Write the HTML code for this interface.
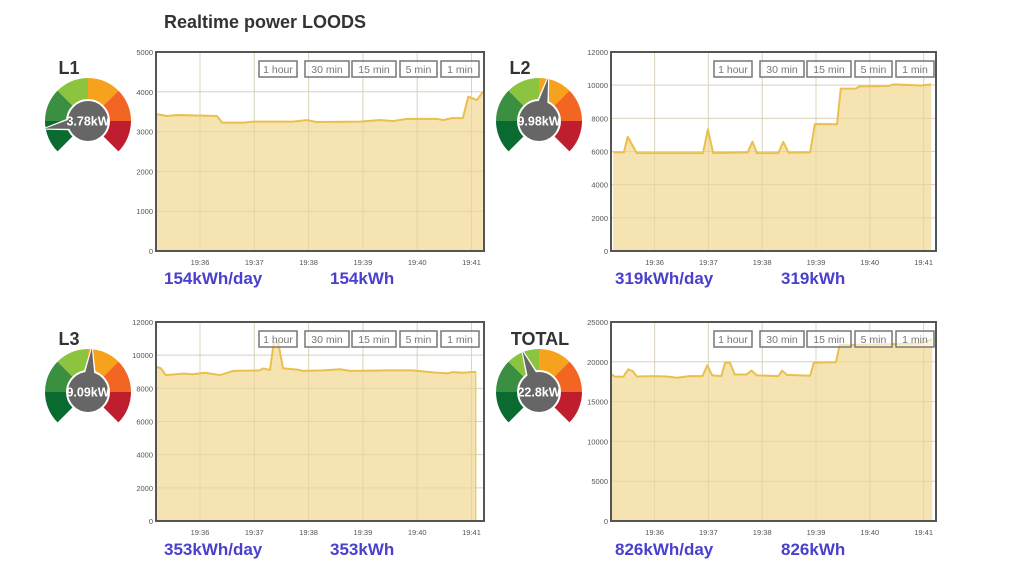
<!DOCTYPE html>
<html><head><meta charset="utf-8"><style>
html,body{margin:0;padding:0;background:#fff;width:1024px;height:585px;overflow:hidden;font-family:"Liberation Sans",sans-serif}
svg{position:absolute;left:0;top:0}
</style></head><body>
<svg id="main" width="1024" height="585" viewBox="0 0 1024 585">
<text x="164" y="28" font-size="18" font-weight="bold" fill="#333">Realtime power LOODS</text>
</svg>
<script>
// ---- data (time in minutes after 19:35) ----
const timeTicks = [1, 2, 3, 4, 5, 6];
const timeTickLabels = ["19:36", "19:37", "19:38", "19:39", "19:40", "19:41"];
const l1Times = [0.19,0.39,0.58,1.31,1.41,1.79,1.98,2.71,2.97,3.15,3.95,4.32,4.55,4.81,5.36,5.48,5.64,5.84,5.94,6.10,6.21];
const l1Values = [3442,3392,3417,3392,3224,3224,3250,3250,3290,3240,3250,3290,3265,3320,3320,3290,3340,3340,3877,3793,4000];
const l2Times = [0.23,0.43,0.50,0.67,0.98,1.53,1.90,1.99,2.09,2.73,2.82,2.90,3.30,3.39,3.49,3.89,3.98,4.39,4.46,4.74,4.81,5.35,5.44,5.95,6.14];
const l2Values = [5950,5950,6890,5900,5900,5900,5900,7340,5900,5950,6590,5900,5900,6580,5930,5950,7660,7640,9790,9800,9930,9950,10050,9980,10050];
const l3Times = [0.20,0.28,0.37,0.69,0.87,1.09,1.37,1.61,2.10,2.16,2.29,2.36,2.44,2.53,2.79,2.90,3.27,3.58,3.76,4.37,4.92,5.29,5.55,5.66,5.84,6.08];
const l3Values = [9300,9210,8800,8890,8850,8940,8800,9050,9080,9200,9110,10810,10760,9210,9130,9050,9080,9150,9050,9080,9080,8960,8900,8980,8940,9000];
const totTimes = [0.21,0.25,0.42,0.51,0.60,0.67,0.97,1.23,1.41,1.65,1.89,1.98,2.07,2.24,2.31,2.40,2.49,2.71,2.80,2.90,3.30,3.37,3.46,3.89,3.96,4.37,4.44,5.33,5.94,6.16];
const totValues = [18430,18150,18120,19060,18800,18150,18200,18150,17990,18200,18200,19560,18300,18200,19900,19900,18400,18400,18900,18300,18200,18900,18350,18250,19900,19950,22100,22200,22300,22830];
const l1Ticks = [0,1000,2000,3000,4000,5000];
const l2Ticks = [0,2000,4000,6000,8000,10000,12000];
const totTicks = [0,5000,10000,15000,20000,25000];
const rangeButtons = ["1 hour","30 min","15 min","5 min","1 min"];

const NS = "http://www.w3.org/2000/svg";
const svg = document.getElementById('main');
function mk(tag, attrs, parent){
  const e = document.createElementNS(NS, tag);
  for (const k in attrs) e.setAttribute(k, attrs[k]);
  (parent||svg).appendChild(e);
  return e;
}
const T0 = 0.19, T1 = 6.23;

function drawChart(id, L, T, R, B, ymax, ticks, times, vals, dropEnd){
  const g = mk('g', {});
  
  
  const xs = t => L + (t - T0) / (T1 - T0) * (R - L);
  const ys = v => B - v / ymax * (B - T);
  // grid + y ticks
  ticks.forEach(v => {
    const y = ys(v);
    const gl = mk('line', {x1:L, x2:R, y1:y, y2:y, stroke:'#e2e2e2', 'stroke-width':1}, g);
    
    
    const tx = mk('text', {x:L-3, y:y+3, 'font-size':7.5, fill:'#555', 'text-anchor':'end'}, g);
    tx.textContent = v;
    
    
  });
  timeTicks.forEach((t, i) => {
    const x = xs(t);
    const gl = mk('line', {x1:x, x2:x, y1:T, y2:B, stroke:'#e2e2e2', 'stroke-width':1}, g);
    
    
    const tx = mk('text', {x:x, y:B+14, 'font-size':7.5, fill:'#555', 'text-anchor':'middle'}, g);
    tx.textContent = timeTickLabels[i];
    
    
  });
  // area
  let d = 'M' + xs(times[0]) + ',' + B;
  let ld = '';
  times.forEach((t, i) => { d += ' L' + xs(t) + ',' + ys(vals[i]); ld += (i ? ' L' : 'M') + xs(t) + ',' + ys(vals[i]); });
  d += ' L' + xs(times[times.length-1]) + ',' + B + ' Z';
  const area = mk('path', {d:d, fill:'#f6e2ae', 'fill-opacity':0.95}, g);
  
  
  // redraw grid faintly over fill
  timeTicks.forEach(t => { const x = xs(t); mk('line', {x1:x, x2:x, y1:T, y2:B, stroke:'#d8c89a', 'stroke-opacity':0.5, 'stroke-width':1}, g); });
  ticks.forEach(v => { const y = ys(v); mk('line', {x1:L, x2:R, y1:y, y2:y, stroke:'#d8c89a', 'stroke-opacity':0.5, 'stroke-width':1}, g); });
  if (dropEnd) {
    const xe = xs(times[times.length-1]);
    mk('line', {x1:xe, x2:xe, y1:ys(vals[vals.length-1]), y2:B, stroke:'#e8c04a', 'stroke-width':1}, g);
  }
  const line = mk('path', {d:ld, fill:'none', stroke:'#e9c04c', 'stroke-width':2, 'stroke-linejoin':'round'}, g);
  
  
  const frame = mk('rect', {x:L, y:T, width:R-L, height:B-T, fill:'none', stroke:'#555', 'stroke-width':2}, g);
  
  
  // range buttons
  const bx = [103, 149, 196, 244, 285];
  const bw = [38, 44, 44, 37, 38];
  rangeButtons.forEach((lab, i) => {
    const x = L + bx[i];
    const bg = mk('g', {}, g);
    
    
    mk('rect', {x:x, y:T+9, width:bw[i], height:16, fill:'#fff', 'fill-opacity':0.6, stroke:'#777', 'stroke-width':1.5}, bg);
    const tx = mk('text', {x:x+bw[i]/2, y:T+21, 'font-size':10.5, fill:'#777', 'text-anchor':'middle'}, bg);
    tx.textContent = lab;
  });
}

function drawGauge(id, cx, cy, label, value, angle, lx, ly){
  const g = mk('g', {});
  
  
  const colors = ['#0a6b30','#3b8f40','#8cc43f','#f7a21c','#f26522','#be1e2d'];
  const ro = 43, ri = 16;
  for (let i = 0; i < 6; i++) {
    const a0 = (-135 + 45*i) * Math.PI/180, a1 = (-90 + 45*i) * Math.PI/180;
    const p = (r, a) => (cx + r*Math.sin(a)).toFixed(2) + ',' + (cy - r*Math.cos(a)).toFixed(2);
    const seg = mk('path', {d:'M'+p(ri,a0)+' L'+p(ro,a0)+' A'+ro+','+ro+' 0 0 1 '+p(ro,a1)+' L'+p(ri,a1)+' A'+ri+','+ri+' 0 0 0 '+p(ri,a0)+' Z', fill:colors[i]}, g);
    
    
  }
  const a = angle * Math.PI/180;
  const tip = [cx + 44*Math.sin(a), cy - 44*Math.cos(a)];
  const pa = a + Math.PI/2;
  const needle = mk('path', {d:'M'+(cx+9*Math.sin(pa))+','+(cy-9*Math.cos(pa))+' L'+tip[0]+','+tip[1]+' L'+(cx-9*Math.sin(pa))+','+(cy+9*Math.cos(pa))+' Z', fill:'#666', stroke:'#fff', 'stroke-width':2, 'stroke-linejoin':'round'}, g);
  
  
  mk('circle', {cx:cx, cy:cy, r:21, fill:'#666', stroke:'#fff', 'stroke-width':2}, g);
  mk('path', {d:'M'+(cx+8*Math.sin(pa))+','+(cy-8*Math.cos(pa))+' L'+tip[0]+','+tip[1]+' L'+(cx-8*Math.sin(pa))+','+(cy+8*Math.cos(pa))+' Z', fill:'#666'}, g);
  const vt = mk('text', {x:cx, y:cy+4.5, 'font-size':12.5, 'font-weight':'bold', fill:'#fff', 'text-anchor':'middle'}, g);
  vt.textContent = value;
  
  
  const lt = mk('text', {x:lx, y:ly, 'font-size':18, 'font-weight':'bold', fill:'#333', 'text-anchor':'middle'}, g);
  lt.textContent = label;
  
  
}

function drawEnergy(id, x1, x2, y, day, tot){
  const a = mk('text', {x:x1, y:y, 'font-size':17, 'font-weight':'bold', fill:'#4a40cc'});
  a.textContent = day;
  
  
  const b = mk('text', {x:x2, y:y, 'font-size':17, 'font-weight':'bold', fill:'#4a40cc'});
  b.textContent = tot;
  
  
}

drawChart('l1', 156, 52, 484, 251, 5000, l1Ticks, l1Times, l1Values, false);
drawChart('l2', 611, 52, 936, 251, 12000, l2Ticks, l2Times, l2Values, false);
drawChart('l3', 156, 322, 484, 521, 12000, l2Ticks, l3Times, l3Values, true);
drawChart('total', 611, 322, 936, 521, 25000, totTicks, totTimes, totValues, false);

drawGauge('l1', 88, 121, 'L1', '3.78kW', -100, 69, 74);
drawGauge('l2', 539, 121, 'L2', '9.98kW', 12, 520, 74);
drawGauge('l3', 88, 392, 'L3', '9.09kW', 5, 69, 345);
drawGauge('total', 539, 392, 'TOTAL', '22.8kW', -22, 540, 345);

drawEnergy('l1', 164, 330, 284, '154kWh/day', '154kWh');
drawEnergy('l2', 615, 781, 284, '319kWh/day', '319kWh');
drawEnergy('l3', 164, 330, 555, '353kWh/day', '353kWh');
drawEnergy('total', 615, 781, 555, '826kWh/day', '826kWh');
</script>
</body></html>
